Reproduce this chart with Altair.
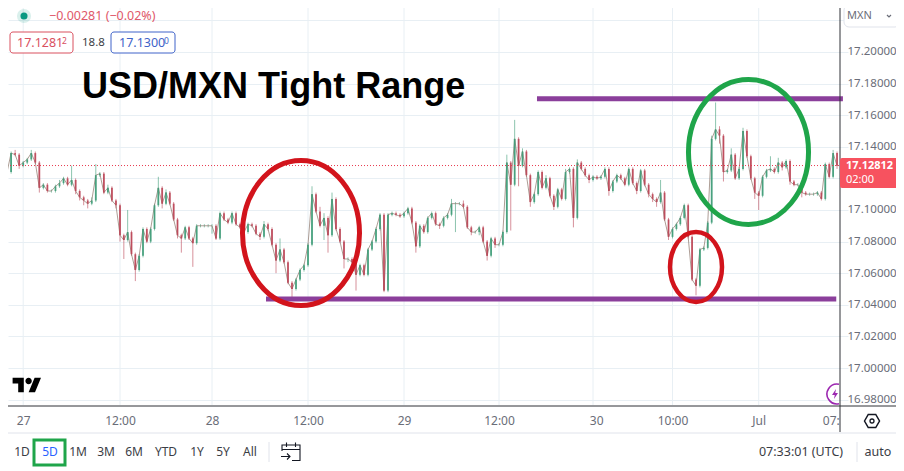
import altair as alt
import pandas as pd

CLOSE = [
17.130,17.122,17.124,17.136,17.135,17.128,17.130,17.132,17.136,17.130,
17.114,17.116,17.112,17.112,17.115,17.117,17.120,17.116,17.119,17.112,
17.108,17.106,17.104,17.106,17.122,17.123,17.111,17.114,17.106,17.103,
17.084,17.081,17.086,17.072,17.062,17.071,17.088,17.080,17.088,17.103,
17.114,17.104,17.111,17.104,17.094,17.084,17.082,17.089,17.082,17.079,
17.090,17.090,17.090,17.090,17.090,17.082,17.098,17.094,17.092,17.098,
17.091,17.089,17.086,17.091,17.090,17.085,17.083,17.091,17.088,17.078,
17.068,17.075,17.067,17.054,17.050,17.056,17.062,17.065,17.078,17.110,
17.099,17.090,17.095,17.084,17.107,17.088,17.080,17.069,17.069,17.067,
17.059,17.065,17.059,17.075,17.080,17.088,17.097,17.049,17.097,17.098,
17.097,17.096,17.098,17.101,17.092,17.077,17.090,17.086,17.095,17.098,
17.091,17.090,17.095,17.097,17.104,17.104,17.104,17.102,17.089,17.086,
17.086,17.089,17.080,17.071,17.082,17.078,17.078,17.086,17.130,17.116,
17.145,17.128,17.137,17.122,17.105,17.110,17.124,17.114,17.120,17.109,
17.102,17.113,17.107,17.124,17.126,17.095,17.130,17.126,17.122,17.119,
17.121,17.120,17.121,17.126,17.112,17.118,17.122,17.120,17.116,17.126,
17.117,17.112,17.125,17.116,17.110,17.107,17.105,17.111,17.094,17.083,
17.088,17.091,17.095,17.103,17.083,17.056,17.052,17.075,17.076,17.092,
17.145,17.151,17.147,17.124,17.125,17.135,17.120,17.126,17.150,17.134,
17.120,17.111,17.109,17.121,17.125,17.126,17.124,17.130,17.127,17.131,
17.118,17.116,17.116,17.111,17.110,17.110,17.110,17.111,17.107,17.129,
17.121,17.136,17.128]

# wick lengths in thousandths of a peso
WICK_UP = [
1,1,1,1,2,1,1,1,2,1, 1,1,1,1,1,2,1,1,9,1, 1,1,1,2,7,1,1,2,1,1, 1,1,14,1,1,1,1,1,1,1,
7,1,2,1,1,1,1,1,1,1, 1,1,1,1,1,1,1,1,1,1, 1,1,1,1,1,1,1,2,1,1, 1,7,1,1,1,1,1,1,1,5,
1,3,3,1,4,1,1,1,1,1, 1,1,1,1,1,1,1,1,1,1, 1,1,1,1,1,1,1,1,1,1, 1,1,1,1,3,1,1,2,1,1,
1,1,1,1,1,1,1,1,5,1, 12,1,2,1,1,1,1,1,2,1, 1,1,1,2,1,1,2,1,1,1, 1,1,1,1,1,1,1,1,1,1,
1,1,1,1,1,1,1,8,1,1, 1,1,1,1,1,1,1,1,1,1, 2,17,2,1,1,4,1,1,2,1, 1,1,1,1,1,8,1,3,1,1,
1,1,1,1,1,1,1,1,1,1, 1,2,1]
WICK_DOWN = [
1,3,1,1,1,2,1,1,1,1, 3,1,1,1,1,1,1,1,1,2, 2,3,3,1,1,1,1,1,1,2, 4,12,1,1,7,1,1,1,1,1,
1,3,1,1,1,2,9,1,1,15, 1,1,1,1,5,1,1,1,1,1, 1,1,1,1,1,1,2,1,1,1, 8,1,1,1,6,1,1,1,1,1,
1,1,9,11,1,1,1,6,2,2, 10,1,1,1,1,1,1,1,1,1, 1,1,1,1,1,4,1,1,1,1, 1,2,1,1,1,18,1,1,1,2,
1,2,1,3,1,2,1,1,1,29, 1,13,1,1,3,1,1,1,1,1, 2,1,1,1,1,6,1,1,1,2, 1,1,1,1,3,1,1,1,1,1,
1,2,1,1,2,2,3,1,1,2, 1,1,1,1,1,1,6,1,1,1, 1,1,5,6,1,1,1,1,1,1, 1,4,9,1,1,1,1,1,2,1,
2,1,1,3,1,1,1,1,1,1, 1,1,2]

X_LABEL_BARS = [6, 30, 54, 78, 102, 126, 150.8, 170, 192, 210.4]
X_LABELS = ["27", "12:00", "28", "12:00", "29", "12:00", "30", "10:00", "Jul", "07:"]
GRID_BARS = [6, 30, 54, 78, 102, 126, 150, 170, 192]
PRICE_TICKS = [16.98, 17.00, 17.02, 17.04, 17.06, 17.08, 17.10, 17.12, 17.14, 17.16, 17.18, 17.20, 17.22]
LAST_PRICE = 17.12812
LEVELS = pd.DataFrame({"start": [135.7, 67.5], "end": [213.5, 211.8], "price": [17.1703, 17.0437]})

GREY = "#6a6d78"
DARK = "#2f3136"
FONT = "Noto Sans"
a = lambda v: v - 8

X_SCALE = alt.Scale(domain=[0, 30, 54, 78, 102, 126, 150, 170, 212.5],
                    range=[-9, 112, 204, 300, 396, 491, 585, 664.5, 831], nice=False, zero=False)
Y_SCALE = alt.Scale(domain=[16.9766, 17.2278], nice=False, zero=False)

label_map = "{" + ",".join(f"'{v}':'{t}'" for v, t in zip(X_LABEL_BARS, X_LABELS)) + "}"
X_AXIS = alt.Axis(values=X_LABEL_BARS, labelExpr=f"{label_map}[''+datum.value]", grid=False,
                  ticks=False, domain=False, labelColor=GREY, labelFont=FONT, labelFontSize=12,
                  labelPadding=10, labelFlush=False, labelOverlap=False, title=None)
Y_AXIS = alt.Axis(orient="right", values=PRICE_TICKS,
                  labelExpr="datum.value == 17.12 || datum.value == 17.22 ? '' : format(datum.value, '.5f')",
                  grid=True, gridColor="#e8eff4",
                  ticks=False, domain=False, labelColor=GREY, labelFont=FONT, labelFontSize=11.5,
                  labelPadding=8, labelAlign="left", labelOverlap=False, labelBound=False, title=None)

def X(field):
    return alt.X(field, scale=X_SCALE, axis=X_AXIS)

def Y(field):
    return alt.Y(field, scale=Y_SCALE, axis=Y_AXIS)

opens = [CLOSE[0]] + CLOSE[:-1]
candles = pd.DataFrame({"bar": range(len(CLOSE)), "open": opens, "close": CLOSE})
candles["high"] = [max(o, c) + u / 1000 for o, c, u in zip(opens, CLOSE, WICK_UP)]
candles["low"] = [min(o, c) - d / 1000 for o, c, d in zip(opens, CLOSE, WICK_DOWN)]
candles["dir"] = ["up" if c >= o else "down" for o, c in zip(opens, CLOSE)]

DIR = alt.Color("dir:N", legend=None,
                scale=alt.Scale(domain=["up", "down"], range=["#3f9c78", "#bb4656"]))

wicks = alt.Chart(candles).mark_rule(strokeWidth=1, opacity=0.6).encode(x=X("bar:Q"), y=Y("low:Q"), y2="high:Q", color=DIR)
trace = alt.Chart(candles).mark_line(strokeWidth=1, color="#8a7468", opacity=0.7).encode(
    x=X("bar:Q"), y=Y("close:Q"), order="bar:Q")
bodies = alt.Chart(candles).mark_rule(strokeWidth=1.8, opacity=0.9).encode(
    x=X("bar:Q"), y=Y("open:Q"), y2="close:Q", color=DIR)

vgrid = alt.Chart(pd.DataFrame({"bar": GRID_BARS})).mark_rule(color="#e8eff4", strokeWidth=1).encode(x=X("bar:Q"))
last_line = alt.Chart(pd.DataFrame({"price": [LAST_PRICE]})).mark_rule(
    color="#e8394f", strokeWidth=1, strokeDash=[1, 2]).encode(y=Y("price:Q"))
levels = alt.Chart(LEVELS).mark_rule(color="#8b3f9b", strokeWidth=5).encode(
    x=X("start:Q"), x2="end:Q", y=Y("price:Q"))

def ring(bar, price, ratio, size, color, width):
    path = f"M-{ratio},0A{ratio},1 0 1,1 {ratio},0A{ratio},1 0 1,1 -{ratio},0Z"
    return alt.Chart(pd.DataFrame({"bar": [bar], "price": [price]})).mark_point(
        shape=path, size=size, color=color, strokeWidth=width, filled=False, opacity=1).encode(
        x=X("bar:Q"), y=Y("price:Q"))

one = pd.DataFrame({"a": [0]})

def text(t, x, y, color=GREY, size=12, align="left", weight="normal", font=FONT):
    return alt.Chart(one).mark_text(text=t, color=color, fontSize=size, align=align, baseline="middle",
                                    fontWeight=weight, font=font).encode(x=alt.value(a(x)), y=alt.value(a(y)))

def rect(x, x2, y, y2, fill="transparent", stroke="transparent", sw=1, r=3):
    return alt.Chart(one).mark_rect(fill=fill, stroke=stroke, strokeWidth=sw, cornerRadius=r).encode(
        x=alt.value(a(x)), x2=alt.value(a(x2)), y=alt.value(a(y)), y2=alt.value(a(y2)))

def line(x, x2, y, y2, color, sw=1):
    return alt.Chart(one).mark_rule(color=color, strokeWidth=sw).encode(
        x=alt.value(a(x)), x2=alt.value(a(x2)), y=alt.value(a(y)), y2=alt.value(a(y2)))

def icon(path, x, y, size, color, sw=1.2, filled=False, opacity=1):
    return alt.Chart(one).mark_point(shape=path, size=size, color=color, strokeWidth=sw, filled=filled,
                                     opacity=opacity).encode(x=alt.value(a(x)), y=alt.value(a(y)))

TV_LOGO = ("M-4 9H-11V-2H-18V-9H-4Z M10 9H2L9.5 -9H17.5L10 9Z "
           "M6 -5A4 4 0 1 1 -2 -5A4 4 0 1 1 6 -5Z")
HEX = "M-1,0L-0.5,-0.87L0.5,-0.87L1,0L0.5,0.87L-0.5,0.87Z"
BOLT = "M0.2,-1L-0.6,0.2L-0.05,0.2L-0.2,1L0.6,-0.2L0.05,-0.2Z"
ARC = "M0.2,-0.98A1,1 0 1,0 0.2,0.98"
CAL = ("M-0.9,-0.1L-0.9,-0.7L0.9,-0.7L0.9,0.85L0.1,0.85M-0.9,-0.25L0.9,-0.25M-0.45,-0.95L-0.45,-0.5"
       "M0.45,-0.95L0.45,-0.5M-1,0.45L-0.1,0.45M-0.4,0.15L-0.1,0.45L-0.4,0.75")

chrome = [
    line(0, 904, 406, 406, DARK), line(840, 840, 0, 432, DARK), line(0, 904, 433, 433, "#e0e3eb"),
    # header
    icon("circle", 24, 16, 200, "#089981", filled=True, opacity=0.15),
    icon("circle", 24, 16, 50, "#089981", filled=True),
    text("\u22120.00281 (\u22120.02%)", 49, 16, "#e0586a", 12.5),
    rect(10, 73, 32, 53, fill="#ffffff", stroke="#d9505f"),
    text("17.1281", 17, 43, "#d9505f", 12.5), text("2", 62, 41, "#d9505f", 8.5),
    text("18.8", 82, 43, "#3b3d45", 11.5),
    rect(111, 175, 32, 53, fill="#ffffff", stroke="#3f63c9"),
    text("17.1300", 119, 43, "#3f63c9", 12.5), text("0", 164, 41, "#3f63c9", 8.5),
    text("USD/MXN Tight Range", 82, 87, "#000000", 36, weight="bold", font="Liberation Sans"),
    # right pane
    rect(844, 900, 5, 27, fill="#ffffff", stroke="#e0e3eb", r=5),
    text("MXN", 847, 16, GREY, 11),
    icon("M-0.8,-0.4L0,0.4L0.8,-0.4", 889, 16, 25, GREY),
    rect(840, 900, 158, 188, fill="#f7525f", r=2),
    text("17.12812", 846, 166, "#ffffff", 11, weight="bold"),
    text("02:00", 846, 180, "#ffffff", 11),
    # corner items
    icon(TV_LOGO, 27, 385, 2.56, "#000000", sw=0, filled=True),
    icon(ARC, 837, 394, 400, "#9c27b0", sw=1.6),
    icon(BOLT, 835, 394, 100, "#9c27b0", sw=0, filled=True),
    icon(HEX, 872, 421, 225, "#131722", sw=1.5),
    icon("circle", 872, 421, 16, "#131722", sw=1.3),
    # bottom bar
    rect(34, 65, 440, 465, fill="#ffffff", stroke="#1fa54a", sw=3, r=0),
    text("1D", 22, 452, "#3b3d45", 12, "center"),
    text("5D", 50, 452, "#2962ff", 12, "center"),
    text("1M", 78, 452, "#3b3d45", 12, "center"),
    text("3M", 106, 452, "#3b3d45", 12, "center"),
    text("6M", 134, 452, "#3b3d45", 12, "center"),
    text("YTD", 166, 452, "#3b3d45", 12, "center"),
    text("1Y", 197, 452, "#3b3d45", 12, "center"),
    text("5Y", 223, 452, "#3b3d45", 12, "center"),
    text("All", 250, 452, "#3b3d45", 12, "center"),
    line(269, 269, 442, 462, "#e0e3eb"),
    icon(CAL, 291, 452, 400, "#131722", sw=1.1),
    text("07:33:01 (UTC)", 801, 452, "#3b3d45", 12.5, "center"),
    line(857, 857, 442, 462, "#e0e3eb"),
    text("auto", 878, 452, "#3b3d45", 12.5, "center"),
]

chart = alt.layer(
    vgrid, wicks, trace, bodies, last_line, levels,
    ring(76.25, 17.0854, 0.807, 21025, "#d2141c", 5),
    ring(176, 17.0639, 0.743, 4900, "#d2141c", 4.5),
    ring(189.4, 17.1367, 0.828, 21025, "#1fa54a", 5),
    *chrome,
).properties(
    width=831, height=397, background="#ffffff",
    autosize=alt.AutoSizeParams(type="none"),
    padding={"left": 0, "top": 0, "right": 57, "bottom": 66},
).configure_view(stroke=None)

chart.save("out.html", embed_options={"renderer": "svg", "actions": False})
